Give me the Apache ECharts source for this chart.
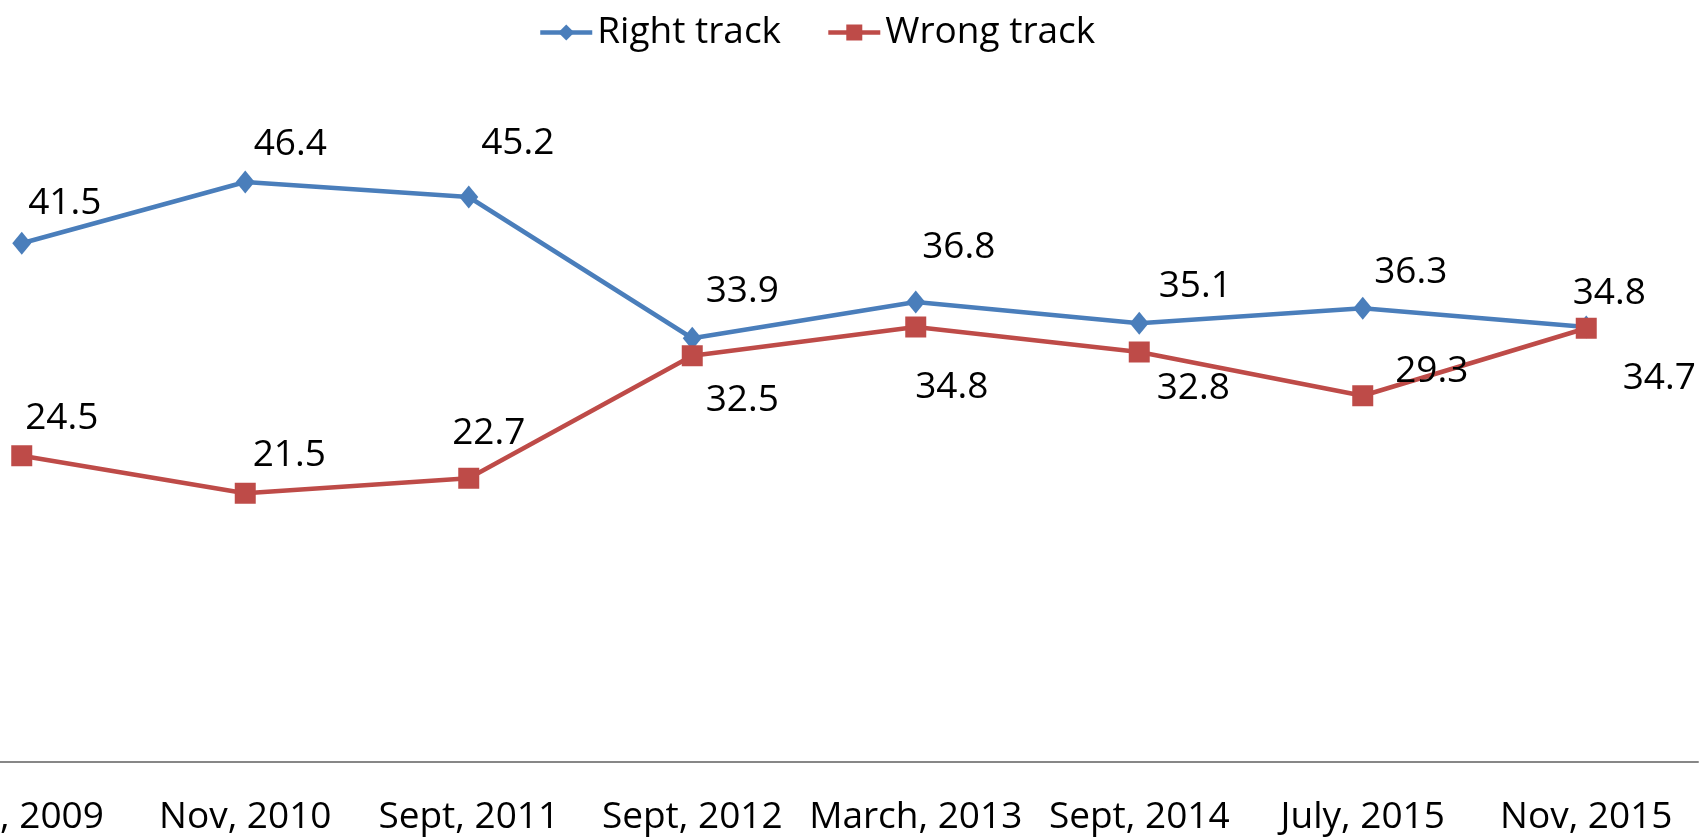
<!DOCTYPE html>
<html>
<head>
<meta charset="utf-8">
<script src="https://cdn.jsdelivr.net/npm/echarts@6/dist/echarts.min.js"></script>
<style>
  html, body { margin: 0; padding: 0; background: #fff; overflow: hidden; }
  #main { width: 1702px; height: 837px; }
</style>
</head>
<body>
<div id="main"></div>
<script>
  // survey dates (first one is cut off at the left edge in the original)
  var categories = ['July, 2009', 'Nov, 2010', 'Sept, 2011', 'Sept, 2012', 'March, 2013', 'Sept, 2014', 'July, 2015', 'Nov, 2015'];
  var rightTrack = [41.5, 46.4, 45.2, 33.9, 36.8, 35.1, 36.3, 34.8];
  var wrongTrack = [24.5, 21.5, 22.7, 32.5, 34.8, 32.8, 29.3, 34.7];

  // where each data label sits relative to its point (px)
  var rightLabelOffsets = [[43, -40], [45, -38], [49, -54], [50, -47], [43, -55], [56, -37], [48, -36], [23, -34]];
  var wrongLabelOffsets = [[40, -37], [44, -38], [20, -45], [50, 45], [36, 60], [54, 36], [69, -24], [73, 50]];

  var FONT = '"Open Sans", "DejaVu Sans", sans-serif';

  function withLabels(values, offsets) {
    var out = [];
    for (var i = 0; i < values.length; i++) {
      out.push({ value: values[i], label: { offset: offsets[i] } });
    }
    return out;
  }

  var chart = echarts.init(document.getElementById('main'));
  var option = {
    animation: false,
    legend: {
      left: 533,
      top: 9,
      itemWidth: 52,
      itemHeight: 20,
      itemGap: 45,
      lineStyle: { width: 4.5 },
      textStyle: { fontFamily: FONT, fontSize: 37, color: '#000' },
      data: ['Right track', 'Wrong track']
    },
    grid: {
      left: -90,
      right: 4,
      top: 137,
      bottom: 75,
      containLabel: false,
      outerBoundsMode: 'none'
    },
    xAxis: {
      type: 'category',
      data: categories,
      boundaryGap: true,
      axisLine: { lineStyle: { color: '#878787', width: 2 } },
      axisTick: { show: false },
      axisLabel: {
        interval: 0,
        margin: 37,
        fontFamily: FONT,
        fontSize: 37,
        color: '#000'
      }
    },
    yAxis: {
      type: 'value',
      min: 0,
      max: 50,
      show: false,
      splitLine: { show: false }
    },
    series: [
      {
        name: 'Right track',
        type: 'line',
        data: withLabels(rightTrack, rightLabelOffsets),
        symbol: 'diamond',
        symbolSize: [19, 23],
        itemStyle: { color: '#4a7ebb' },
        lineStyle: { color: '#4a7ebb', width: 4.5 },
        label: {
          show: true,
          position: 'inside',
          align: 'center',
          verticalAlign: 'middle',
          fontFamily: FONT,
          fontSize: 37,
          color: '#000'
        }
      },
      {
        name: 'Wrong track',
        type: 'line',
        data: withLabels(wrongTrack, wrongLabelOffsets),
        symbol: 'rect',
        symbolSize: 21,
        itemStyle: { color: '#be4b48' },
        lineStyle: { color: '#be4b48', width: 4.5 },
        label: {
          show: true,
          position: 'inside',
          align: 'center',
          verticalAlign: 'middle',
          fontFamily: FONT,
          fontSize: 37,
          color: '#000'
        }
      }
    ]
  };
  chart.setOption(option);
</script>
</body>
</html>
